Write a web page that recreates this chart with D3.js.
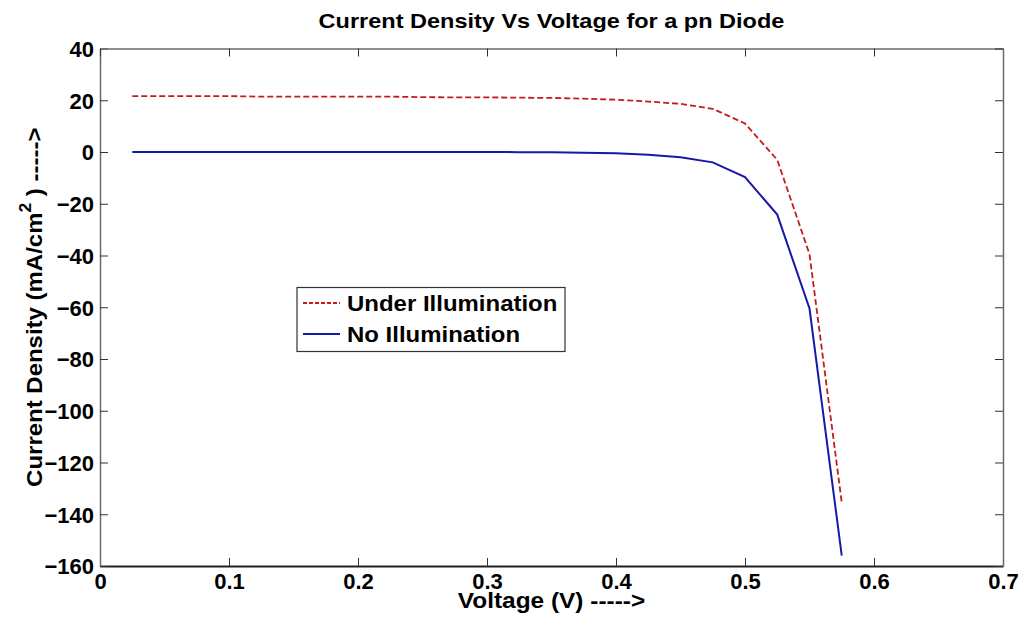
<!DOCTYPE html>
<html>
<head>
<meta charset="utf-8">
<script src="https://cdn.jsdelivr.net/npm/d3@7/dist/d3.min.js"></script>
<style>
  body { margin: 0; background: #fff; }
  svg { display: block; font-family: "Liberation Sans", Arial, sans-serif; }
</style>
</head>
<body>
<svg id="chart" width="1024" height="622"></svg>
<script>
// Forward-biased pn diode: voltage sweep (V) and current density (mA/cm^2)
const voltage = [0.025, 0.05, 0.075, 0.1, 0.125, 0.15, 0.175, 0.2, 0.225, 0.25, 0.275, 0.3,
                 0.325, 0.35, 0.375, 0.4, 0.425, 0.45, 0.475, 0.5, 0.525, 0.55, 0.575];
const underIllumination = [21.6, 21.6, 21.6, 21.6, 21.4, 21.4, 21.4, 21.4, 21.4, 21.2, 21.1, 21.1,
                           21.0, 20.9, 20.6, 20.2, 19.5, 18.6, 16.7, 11.0, -3.0, -39.5, -135.5];
const noIllumination = [0, 0, 0, 0, 0, 0, 0, 0, 0, 0, 0, -0.02,
                        -0.05, -0.1, -0.25, -0.5, -1.1, -2.0, -4.0, -9.7, -24.2, -60.5, -156.0];
const xTicks = [0, 0.1, 0.2, 0.3, 0.4, 0.5, 0.6, 0.7];
const yTicks = [40, 20, 0, -20, -40, -60, -80, -100, -120, -140, -160];
const seriesNames = ["Under Illumination", "No Illumination"];

const svg = d3.select("#chart");
const plotLeft = 100, plotRight = 1003, plotTop = 48.5, plotBottom = 566;

const x = d3.scaleLinear().domain([0, 0.7]).range([plotLeft, plotRight]);
const y = d3.scaleLinear().domain([-160, 40]).range([plotBottom, plotTop]);

const tickLen = 8;
const fmtX = v => v === 0 ? "0" : d3.format(".1f")(v);

// Bottom axis with inward ticks
const xAxis = svg.append("g").attr("transform", `translate(0,${plotBottom})`)
  .call(d3.axisBottom(x).tickValues(xTicks).tickFormat(fmtX).tickSizeInner(-tickLen).tickSizeOuter(0));
// Left axis with inward ticks
const yAxis = svg.append("g").attr("transform", `translate(${plotLeft},0)`)
  .call(d3.axisLeft(y).tickValues(yTicks).tickSizeInner(-tickLen).tickSizeOuter(0).tickPadding(6));
// Top and right axes: ticks only
const xTop = svg.append("g").attr("transform", `translate(0,${plotTop})`)
  .call(d3.axisTop(x).tickValues(xTicks).tickFormat("").tickSizeInner(-tickLen).tickSizeOuter(0));
const yRight = svg.append("g").attr("transform", `translate(${plotRight},0)`)
  .call(d3.axisRight(y).tickValues(yTicks).tickFormat("").tickSizeInner(-tickLen).tickSizeOuter(0));

[xAxis, yAxis, xTop, yRight].forEach(g => {
  g.select(".domain").attr("stroke", "#6a6a6a").attr("stroke-width", 1.5);
  g.selectAll(".tick line").attr("stroke", "#333").attr("stroke-width", 1);
  g.selectAll(".tick text").attr("fill", "#000").style("font-size", "22px").style("font-weight", "bold")
    .style("font-family", "'Liberation Sans', Arial, sans-serif");
});
xAxis.select(".domain").attr("stroke", "#222").attr("stroke-width", 2);
xAxis.selectAll(".tick text").attr("y", 23).attr("dy", 0);
yAxis.selectAll(".tick text").attr("dy", "0.36em");

// Curves
const line = d3.line().x((d, i) => x(voltage[i])).y(d => y(d));
svg.append("path").datum(underIllumination)
  .attr("d", line).attr("fill", "none").attr("stroke", "#c41c1c")
  .attr("stroke-width", 1.8).attr("stroke-dasharray", "6,3");
svg.append("path").datum(noIllumination)
  .attr("d", line).attr("fill", "none").attr("stroke", "#1818a8")
  .attr("stroke-width", 2);

// Title (slightly wide-set heading)
svg.append("text")
  .attr("transform", `translate(${(plotLeft + plotRight) / 2},28) scale(1.12,1)`)
  .attr("text-anchor", "middle").style("font-size", "21px").style("font-weight", "bold")
  .text("Current Density Vs Voltage for a pn Diode");

// X axis label
svg.append("text")
  .attr("transform", `translate(${(plotLeft + plotRight) / 2},608) scale(1.11,1)`)
  .attr("text-anchor", "middle").style("font-size", "22px").style("font-weight", "bold")
  .text("Voltage (V) ----->");

// Y axis label with superscript
const yl = svg.append("text")
  .attr("transform", `translate(42,${(plotTop + plotBottom) / 2}) rotate(-90) scale(1.09,1)`)
  .attr("text-anchor", "middle").style("font-size", "22px").style("font-weight", "bold");
yl.append("tspan").text("Current Density (mA/cm");
yl.append("tspan").attr("dy", -11).style("font-size", "16px").text("2");
yl.append("tspan").attr("dy", 11).text(" ) ----->");

// Legend
const lg = svg.append("g");
lg.append("rect").attr("x", 297).attr("y", 287.5).attr("width", 268).attr("height", 64)
  .attr("fill", "#fff").attr("stroke", "#333").attr("stroke-width", 1.2);
const legendStyles = [
  { color: "#c41c1c", dash: "4,2", w: 1.8 },
  { color: "#1818a8", dash: null, w: 2 }
];
seriesNames.forEach((name, i) => {
  const cy = 303 + i * 31;
  lg.append("line").attr("x1", 303).attr("x2", 340).attr("y1", cy).attr("y2", cy)
    .attr("stroke", legendStyles[i].color).attr("stroke-width", legendStyles[i].w)
    .attr("stroke-dasharray", legendStyles[i].dash);
  lg.append("text").attr("transform", `translate(347,${cy}) scale(1.09,1)`).attr("dy", "0.36em")
    .style("font-size", "22px").style("font-weight", "bold")
    .text(name);
});
</script>
</body>
</html>
